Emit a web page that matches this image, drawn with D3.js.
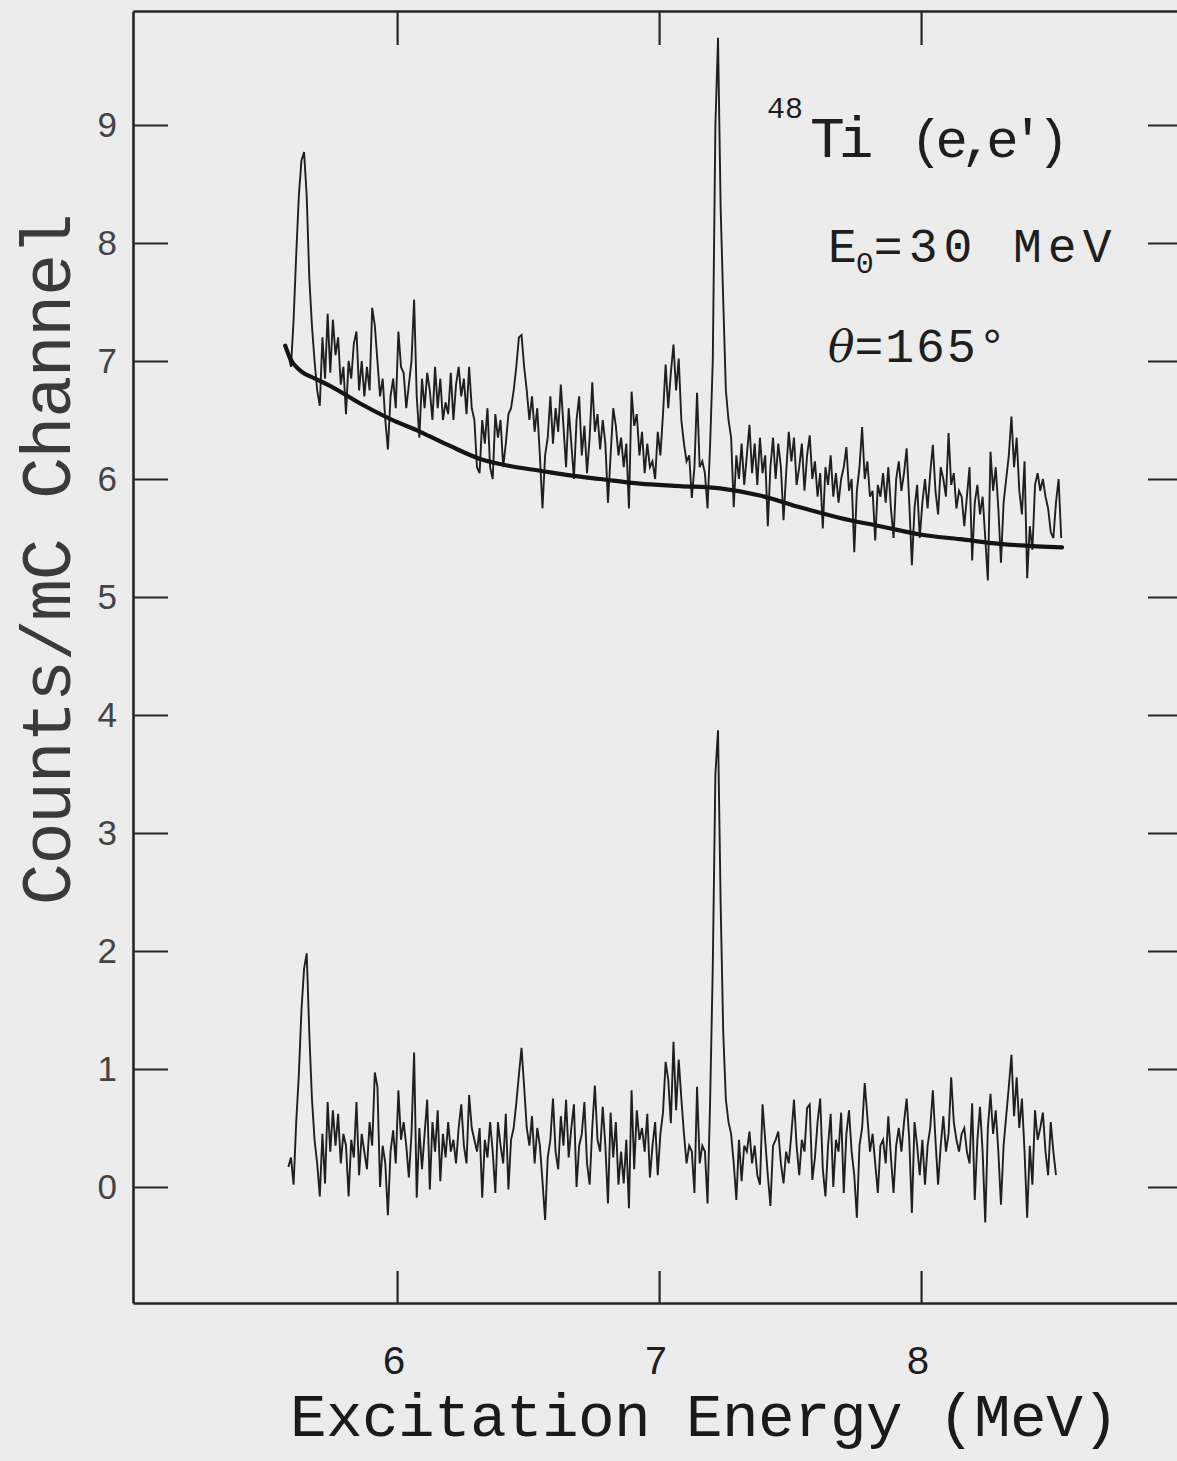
<!DOCTYPE html>
<html>
<head>
<meta charset="utf-8">
<script src="https://cdn.jsdelivr.net/npm/d3@7/dist/d3.min.js"></script>
<style>
  html, body { margin: 0; padding: 0; background: #ececec; }
  svg { display: block; }
</style>
</head>
<body>
<svg id="chart" width="1177" height="1461"></svg>
<script>
// ---------------- DATA ----------------
// x-axis tick values (MeV) and y-axis tick values (counts / mC channel)
const xTicks = [6, 7, 8];
const yTicks = [0, 1, 2, 3, 4, 5, 6, 7, 8, 9];

// channel calibration of the two spectra (MeV)
const topStart = 5.575;
const bottomStart = 5.585;
const channelWidth = 0.01;

// upper spectrum: raw 48Ti(e,e') counts per channel
const topCounts = [
  7.10, 7.05, 6.95, 7.35, 7.90, 8.40, 8.70, 8.77, 8.40, 7.70, 7.30, 7.00, 6.75, 6.62,
  7.20, 6.85, 7.40, 6.90, 7.35, 7.05, 7.20, 6.80, 6.95, 6.55, 7.00, 6.85, 7.15, 7.25, 6.75, 7.00,
  6.70, 6.95, 6.75, 7.45, 7.30, 7.00, 6.70, 6.85, 6.50, 6.25, 6.70, 6.85, 6.60, 7.25, 6.95, 6.90,
  6.60, 6.80, 7.00, 7.52, 6.70, 6.35, 6.85, 6.60, 6.90, 6.75, 6.50, 6.95, 6.60, 6.85, 6.50, 6.65,
  6.55, 6.90, 6.50, 6.80, 6.95, 6.70, 6.85, 6.55, 6.95, 6.60, 6.50, 6.10, 6.05, 6.50, 6.30, 6.60,
  6.10, 6.00, 6.55, 6.35, 6.50, 6.10, 6.30, 6.55, 6.60, 6.75, 6.95, 7.20, 7.22, 6.95, 6.75, 6.50,
  6.70, 6.40, 6.60, 6.20, 5.75, 6.20, 6.35, 6.70, 6.30, 6.60, 6.40, 6.80,
  6.45, 6.10, 6.60, 6.30, 6.00, 6.50, 6.70, 6.20, 6.45, 6.05, 6.35, 6.82, 6.40, 6.55, 6.25, 6.50,
  6.30, 5.80, 6.20, 6.60, 6.45, 6.20, 6.35, 6.10, 6.30, 5.75, 6.74, 6.45, 6.55, 6.20, 6.40, 6.05,
  6.30, 6.10, 6.15, 6.00, 6.40, 6.20, 6.55, 6.97, 6.60, 6.90, 7.14, 6.75, 7.02, 6.50, 6.30, 6.15,
  6.20, 5.84, 6.10, 6.73, 6.10, 6.15, 6.05, 5.75, 6.30, 7.00, 9.00, 9.74, 8.30, 7.50, 6.75, 6.50,
  6.35, 5.76, 6.20, 6.00, 6.30, 5.95, 6.20, 6.46, 6.05, 6.30, 5.95, 6.35, 6.05, 6.20, 5.60, 6.10,
  6.35, 6.00, 6.30, 6.10, 5.65, 6.05, 6.40, 6.15, 6.35, 5.95, 6.10, 6.30, 5.90, 6.20, 6.37, 6.00,
  6.15, 5.85, 6.05, 5.58, 6.10, 5.95, 6.20, 5.85, 6.05, 5.80, 6.00, 6.10, 6.27, 5.90, 6.00, 5.38,
  5.90, 6.10, 6.44, 6.00, 6.15, 5.85, 5.90, 5.48, 5.95, 5.85, 6.05, 5.80, 6.10, 5.75, 5.50, 6.00,
  6.15, 5.90, 6.05, 6.26, 5.80, 5.27, 5.75, 5.95, 5.50, 5.80, 6.00, 5.75, 6.05, 6.29, 5.90, 5.70,
  6.10, 6.00, 5.85, 6.39, 5.95, 6.05, 5.75, 5.90, 5.85, 5.60, 5.85, 6.10, 5.31, 5.80, 5.95, 5.70,
  5.85, 5.50, 5.14, 6.23, 5.90, 6.10, 5.75, 5.29, 5.80, 6.00, 6.20, 6.53, 6.10, 6.35, 5.90, 5.70,
  6.15, 5.16, 5.60, 5.40, 5.95, 6.05, 5.90, 6.00, 5.85, 5.75, 5.55, 5.50, 5.80, 6.00, 5.50
];

// smooth background under the upper spectrum
const bgEnergy = [5.573, 5.592, 5.630, 5.687, 5.744, 5.859, 5.973, 6.088, 6.202, 6.317, 6.431,
                  6.546, 6.660, 6.775, 6.927, 7.080, 7.233, 7.385, 7.538, 7.691, 7.844, 7.996,
                  8.149, 8.302, 8.538];
const bgValue  = [7.13, 7.02, 6.92, 6.85, 6.79, 6.64, 6.51, 6.40, 6.28, 6.17, 6.11,
                  6.07, 6.03, 6.00, 5.96, 5.94, 5.92, 5.86, 5.76, 5.67, 5.60, 5.53,
                  5.49, 5.45, 5.42];

// lower spectrum: background-subtracted counts per channel
const bottomCounts = [
  0.17, 0.25, 0.02, 0.55, 0.95, 1.50, 1.85, 1.98, 1.30, 0.75, 0.40, 0.20, -0.08, 0.45, 0.03, 0.72,
  0.30, 0.65, 0.35, 0.62, 0.20, 0.45, 0.35, -0.08, 0.40, 0.25, 0.72, 0.10, 0.45, 0.30, 0.15, 0.55,
  0.35, 0.97, 0.85, 0.00, 0.35, 0.20, -0.24, 0.30, 0.48, 0.20, 0.82, 0.40, 0.55, 0.35, 0.08, 0.45,
  1.14, -0.09, 0.50, 0.15, 0.45, 0.74, -0.02, 0.55, 0.30, 0.65, 0.05, 0.45, 0.25, 0.55, 0.30, 0.40,
  0.20, 0.50, 0.70, 0.35, 0.20, 0.78, 0.50, 0.40, 0.30, 0.50, -0.09, 0.40, 0.25, 0.55, 0.30, -0.05,
  0.55, 0.35, 0.20, 0.62, -0.02, 0.40, 0.50, 0.71, 0.95, 1.18, 0.85, 0.50, 0.35, 0.60, 0.20, 0.50,
  0.35, 0.05, -0.28, 0.25, 0.40, 0.75, 0.30, 0.15, 0.60, 0.35, 0.74, 0.25, 0.50, 0.70, 0.00, 0.35,
  0.45, 0.72, 0.20, 0.02, 0.50, 0.86, 0.40, 0.30, 0.68, 0.35, -0.14, 0.63, 0.25, 0.55, 0.02, 0.30,
  0.03, 0.40, -0.18, 0.82, 0.15, 0.65, 0.40, 0.50, 0.30, 0.62, 0.08, 0.35, 0.55, 0.10, 0.45, 0.63,
  1.06, 0.91, 0.54, 1.23, 0.65, 1.08, 0.75, 0.45, 0.20, 0.35, 0.30, -0.05, 0.85, 0.20, 0.35, 0.30,
  -0.14, 0.74, 1.87, 3.50, 3.87, 2.40, 1.30, 0.74, 0.55, 0.45, 0.20, -0.11, 0.40, 0.05, 0.35, 0.30,
  0.47, 0.20, 0.35, 0.10, 0.02, 0.70, 0.40, 0.10, -0.16, 0.35, 0.40, 0.47, 0.20, 0.03, 0.30, 0.20,
  0.45, 0.74, 0.35, 0.10, 0.40, 0.30, 0.67, 0.70, 0.06, 0.25, 0.55, 0.75, 0.15, -0.08, 0.35, 0.62,
  0.00, 0.40, 0.30, 0.63, -0.05, 0.45, 0.65, 0.30, 0.10, -0.26, 0.35, 0.50, 0.88, 0.60, 0.30, 0.45,
  0.20, -0.05, 0.35, 0.40, 0.20, 0.60, 0.25, -0.05, 0.35, 0.50, 0.30, 0.55, 0.75, 0.40, -0.22, 0.55,
  0.35, 0.10, 0.40, 0.02, 0.35, 0.50, 0.82, 0.40, 0.02, 0.35, 0.60, 0.30, 0.45, 0.93, 0.55, 0.40,
  0.30, 0.45, 0.50, 0.30, 0.20, 0.71, -0.11, 0.40, 0.68, 0.30, -0.30, 0.50, 0.79, 0.45, 0.65, 0.30,
  -0.15, 0.35, 0.60, 0.85, 1.12, 0.60, 0.93, 0.50, 0.75, 0.30, -0.26, 0.35, 0.02, 0.65, 0.40, 0.50,
  0.63, 0.30, 0.10, 0.55, 0.30, 0.10
];

// ---------------- CHART ----------------
const svg = d3.select("#chart");
const plot = { left: 133, right: 1182, top: 11, bottom: 1303 };

const x = d3.scaleLinear().domain([4.992, 8.996]).range([plot.left, plot.right]);
const y = d3.scaleLinear().domain([-0.983, 9.966]).range([plot.bottom, plot.top]);

const ink = "#262626";
const mono = "'Liberation Mono', monospace";

function styleAxis(g) {
  g.select(".domain").attr("stroke", ink).attr("stroke-width", 2.6);
  g.selectAll(".tick line").attr("stroke", ink).attr("stroke-width", 2.2);
}

svg.append("g")
  .attr("transform", `translate(${plot.left},0)`)
  .call(d3.axisLeft(y).tickValues(yTicks).tickSizeInner(-35).tickSizeOuter(0).tickPadding(16)
        .tickFormat(d3.format("d")))
  .call(styleAxis)
  .call(g => g.selectAll(".tick text")
      .attr("font-family", "'Liberation Sans', Arial, sans-serif")
      .attr("font-size", 35)
      .attr("fill", "#444"));

svg.append("g")
  .attr("transform", `translate(${plot.right},0)`)
  .call(d3.axisRight(y).tickValues(yTicks).tickSizeInner(-34).tickSizeOuter(0).tickFormat(""))
  .call(styleAxis);

svg.append("g")
  .attr("transform", `translate(0,${plot.top})`)
  .call(d3.axisTop(x).tickValues(xTicks).tickSizeInner(-34).tickSizeOuter(0).tickFormat(""))
  .call(styleAxis);

svg.append("g")
  .attr("transform", `translate(0,${plot.bottom})`)
  .call(d3.axisBottom(x).tickValues(xTicks).tickSizeInner(-32).tickSizeOuter(0).tickFormat(""))
  .call(styleAxis);

// x tick labels (placed well below the axis, as in the original)
svg.append("g").selectAll("text").data(xTicks).join("text")
  .attr("x", d => x(d) - 3)
  .attr("y", 1374)
  .attr("text-anchor", "middle")
  .attr("font-family", mono)
  .attr("font-size", 40)
  .attr("fill", "#1e1e1e")
  .text(d => d);

// spectra
const topData = topCounts.map((v, i) => ({ e: topStart + i * channelWidth, v }));
const bottomData = bottomCounts.map((v, i) => ({ e: bottomStart + i * channelWidth, v }));
const bgData = bgEnergy.map((e, i) => ({ e, v: bgValue[i] }));

const line = d3.line().x(d => x(d.e)).y(d => y(d.v));

[topData, bottomData].forEach(series => {
  svg.append("path").datum(series)
    .attr("d", line)
    .attr("fill", "none").attr("stroke", "#1f1f1f").attr("stroke-width", 1.9)
    .attr("stroke-linejoin", "miter");
});

svg.append("path").datum(bgData)
  .attr("d", d3.line().x(d => x(d.e)).y(d => y(d.v)).curve(d3.curveMonotoneX))
  .attr("fill", "none").attr("stroke", "#141414").attr("stroke-width", 4.2)
  .attr("stroke-linecap", "round");

// axis titles
svg.append("text")
  .attr("x", 290).attr("y", 1436)
  .attr("font-family", mono)
  .attr("font-size", 61)
  .attr("letter-spacing", -0.6)
  .attr("fill", "#1a1a1a")
  .text("Excitation Energy (MeV)");

svg.append("text")
  .attr("transform", "translate(70,560) rotate(-90)")
  .attr("text-anchor", "middle")
  .attr("font-family", mono)
  .attr("font-size", 70)
  .attr("letter-spacing", -1.4)
  .attr("fill", "#3a3a3a")
  .text("Counts/mC Channel");

// annotations
svg.append("text").attr("x", 767).attr("y", 118)
  .attr("font-family", mono).attr("font-size", 30).attr("fill", "#1e1e1e").text("48");
svg.append("text").attr("x", 810).attr("y", 157)
  .attr("font-family", mono).attr("font-size", 58).attr("letter-spacing", -6).attr("fill", "#1e1e1e")
  .text("Ti");
svg.append("text").attr("x", 910).attr("y", 157)
  .attr("font-family", mono).attr("font-size", 54).attr("letter-spacing", -7).attr("fill", "#1e1e1e")
  .text("(e,e′)");

const e0 = svg.append("text").attr("x", 828).attr("y", 262)
  .attr("font-family", mono).attr("font-size", 48).attr("fill", "#1e1e1e");
e0.append("tspan").text("E");
e0.append("tspan").attr("font-size", 30).attr("dy", 11).attr("dx", -1).text("0");
e0.append("tspan").attr("dy", -11).attr("letter-spacing", 6).text("=30 MeV");

const th = svg.append("text").attr("x", 828).attr("y", 362)
  .attr("font-family", mono).attr("font-size", 48).attr("fill", "#1e1e1e");
th.append("tspan").attr("font-family", "'DejaVu Serif', serif").attr("font-style", "italic").attr("font-size", 44).text("θ");
th.append("tspan").attr("letter-spacing", 2).text("=165°");
</script>
</body>
</html>
